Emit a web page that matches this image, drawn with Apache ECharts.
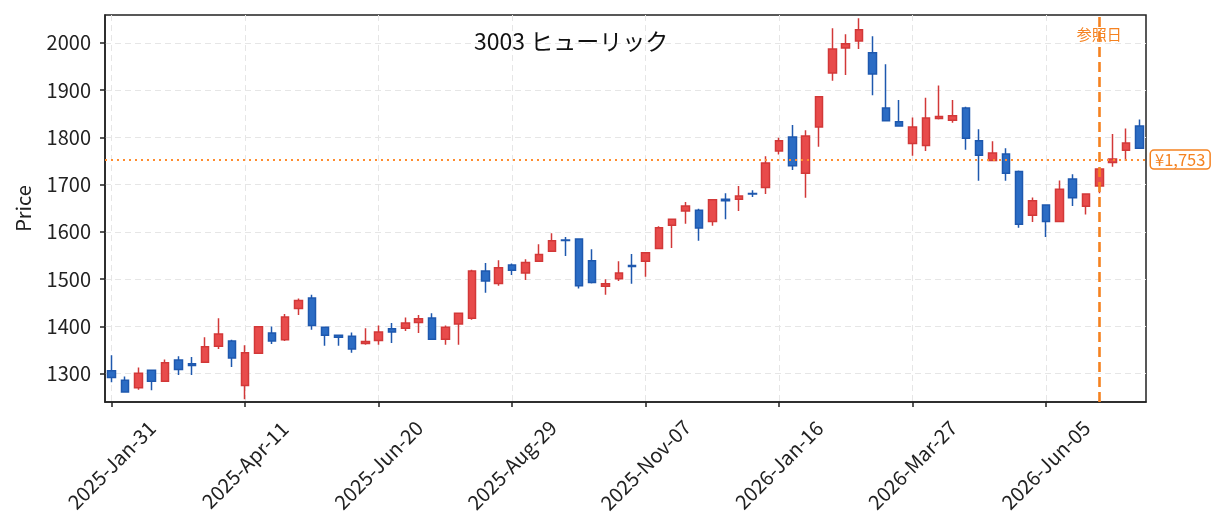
<!DOCTYPE html>
<html><head><meta charset="utf-8">
<script src="https://cdn.jsdelivr.net/npm/echarts@6/dist/echarts.min.js"></script>
<style>html,body{margin:0;padding:0;background:#fff}#c{width:1225px;height:532px}</style>
</head><body><div id="c"></div>
<script>
const dates = [
'2025-Jan-31','2025-Feb-07','2025-Feb-14','2025-Feb-21','2025-Feb-28','2025-Mar-07','2025-Mar-14','2025-Mar-21','2025-Mar-28','2025-Apr-04',
'2025-Apr-11','2025-Apr-18','2025-Apr-25','2025-May-02','2025-May-09','2025-May-16','2025-May-23','2025-May-30','2025-Jun-06','2025-Jun-13',
'2025-Jun-20','2025-Jun-27','2025-Jul-04','2025-Jul-11','2025-Jul-18','2025-Jul-25','2025-Aug-01','2025-Aug-08','2025-Aug-15','2025-Aug-22',
'2025-Aug-29','2025-Sep-05','2025-Sep-12','2025-Sep-19','2025-Sep-26','2025-Oct-03','2025-Oct-10','2025-Oct-17','2025-Oct-24','2025-Oct-31',
'2025-Nov-07','2025-Nov-14','2025-Nov-21','2025-Nov-28','2025-Dec-05','2025-Dec-12','2025-Dec-19','2025-Dec-26','2026-Jan-02','2026-Jan-09',
'2026-Jan-16','2026-Jan-23','2026-Jan-30','2026-Feb-06','2026-Feb-13','2026-Feb-20','2026-Feb-27','2026-Mar-06','2026-Mar-13','2026-Mar-20',
'2026-Mar-27','2026-Apr-03','2026-Apr-10','2026-Apr-17','2026-Apr-24','2026-May-01','2026-May-08','2026-May-15','2026-May-22','2026-May-29',
'2026-Jun-05','2026-Jun-12','2026-Jun-19','2026-Jun-26','2026-Jul-03','2026-Jul-10','2026-Jul-17','2026-Jul-24'];
const openP = [
1306,1286,1270,1307,1284,1329,1321,1324,1358,1369,
1275,1343,1386,1372,1438,1460,1398,1381,1379,1364,
1370,1395,1396,1408,1418,1373,1405,1417,1517,1491,
1530,1513,1538,1559,1583,1585,1539,1485,1501,1529,
1538,1565,1614,1644,1646,1622,1669,1669,1681,1694,
1771,1801,1724,1822,1936,1989,2004,1979,1862,1833,
1787,1783,1840,1836,1862,1793,1751,1765,1728,1635,
1657,1622,1712,1654,1697,1747,1773,1824];
const closeP = [
1292,1261,1301,1284,1323,1309,1317,1357,1384,1333,
1344,1399,1369,1420,1455,1402,1381,1377,1352,1368,
1388,1388,1407,1416,1373,1398,1428,1517,1496,1524,
1519,1535,1552,1581,1582,1486,1493,1490,1513,1527,
1556,1609,1627,1655,1608,1668,1666,1676,1680,1746,
1793,1740,1803,1886,1987,1998,2028,1934,1835,1824,
1822,1841,1844,1846,1798,1762,1767,1724,1616,1666,
1622,1690,1672,1680,1733,1754,1788,1777];
const lowP = [
1282,1260,1266,1265,1283,1297,1297,1323,1352,1314,
1246,1343,1363,1369,1424,1393,1359,1359,1344,1361,
1361,1365,1390,1386,1372,1361,1361,1414,1471,1486,
1509,1498,1538,1559,1549,1480,1491,1467,1496,1490,
1505,1564,1566,1617,1581,1613,1627,1644,1674,1680,
1764,1731,1672,1780,1920,1932,1987,1889,1834,1823,
1761,1771,1838,1831,1774,1708,1751,1708,1609,1621,
1589,1622,1655,1637,1682,1738,1750,1777];
const highP = [
1339,1294,1313,1309,1330,1337,1335,1377,1417,1372,
1360,1399,1400,1426,1459,1467,1398,1383,1387,1396,
1402,1407,1419,1424,1428,1402,1428,1520,1534,1540,
1533,1542,1574,1597,1589,1585,1563,1500,1538,1553,
1556,1612,1627,1663,1649,1668,1682,1697,1688,1760,
1799,1826,1815,1886,2031,2018,2052,2014,1955,1879,
1842,1884,1910,1879,1865,1817,1792,1777,1730,1673,
1657,1709,1722,1680,1733,1807,1819,1838];
const tickLabels = ['2025-Jan-31','2025-Apr-11','2025-Jun-20','2025-Aug-29','2025-Nov-07','2026-Jan-16','2026-Mar-27','2026-Jun-05'];
const refPrice = 1753;
const refDate = '2026-Jul-03';
const refDateText = '参照日';
const titleText = '3003 ヒューリック';
const yName = 'Price';

const FONT = "'Noto Sans CJK JP', 'Noto Sans', sans-serif";
const ORANGE = '#F58220';
const candleData = dates.map((d, i) => [openP[i], closeP[i], lowP[i], highP[i]]);
const showTick = (idx, val) => tickLabels.indexOf(val !== undefined ? val : dates[idx]) >= 0;

const chart = echarts.init(document.getElementById('c'), null, {renderer: 'canvas'});
chart.setOption({
  animation: false,
  backgroundColor: '#fff',
  textStyle: {fontFamily: FONT},
  title: {
    text: titleText, left: 469, top: 25,
    textStyle: {fontFamily: FONT, fontSize: 23, fontWeight: 'normal', color: '#111'}
  },
  grid: {left: 105, right: 79, top: 15, bottom: 130, show: true, borderColor: '#222', borderWidth: 1.5, backgroundColor: 'transparent'},
  xAxis: {
    type: 'category', data: dates, boundaryGap: true,
    axisLine: {show: true, lineStyle: {color: '#222', width: 1.5}},
    axisTick: {show: true, alignWithLabel: true, interval: (i, v) => showTick(i, v), length: 5, lineStyle: {color: '#222', width: 1.5}},
    axisLabel: {
      interval: (i, v) => showTick(i, v), rotate: 45, align: 'center', verticalAlign: 'middle', margin: 63,
      fontFamily: FONT, fontSize: 20, color: '#222'
    },
    splitLine: {show: true, alignWithLabel: true, interval: (i, v) => showTick(i, v), lineStyle: {color: '#e6e6e6', type: [6, 4], width: 1}}
  },
  yAxis: {
    type: 'value', min: 1240, max: 2059, minInterval: 100, maxInterval: 100, scale: true,
    name: yName, nameLocation: 'middle', nameGap: 72, nameRotate: 90,
    nameTextStyle: {fontFamily: FONT, fontSize: 20, color: '#222'},
    axisLine: {show: true, lineStyle: {color: '#222', width: 1.5}},
    axisTick: {show: true, length: 5, lineStyle: {color: '#222', width: 1.5}},
    axisLabel: {showMinLabel: false, showMaxLabel: false, formatter: v => String(v), fontFamily: FONT, fontSize: 20, color: '#222', margin: 14},
    splitLine: {show: true, showMinLine: false, showMaxLine: false, lineStyle: {color: '#e6e6e6', type: [6, 4], width: 1}}
  },
  series: [{
    type: 'candlestick',
    data: candleData,
    barWidth: 8,
    itemStyle: {
      color: '#E84B4B', color0: '#2B6CC4',
      borderColor: '#D23838', borderColor0: '#1E58AE', borderWidth: 1.5
    },
    markLine: {
      silent: true, symbol: ['none', 'none'], animation: false,
      data: [
        {yAxis: refPrice, lineStyle: {type: [2, 4], width: 2, color: '#FF8C2E'},
         label: {show: true, position: 'end', distance: 5, formatter: '¥' + refPrice.toLocaleString('en-US'),
           color: ORANGE, fontFamily: FONT, fontSize: 16.5, backgroundColor: '#fff',
           borderColor: ORANGE, borderWidth: 1.5, borderRadius: 3, padding: [1, 4, 0, 4]}},
        {xAxis: refDate, lineStyle: {type: [10, 5], width: 2.6, color: ORANGE}, label: {show: false}}
      ]
    },
    markPoint: {
      silent: true, animation: false,
      symbol: 'rect', symbolSize: 1, itemStyle: {color: 'rgba(0,0,0,0)'},
      data: [{coord: [refDate, 2018], value: refDateText}],
      label: {show: true, position: 'inside', formatter: refDateText, color: ORANGE, fontFamily: FONT, fontSize: 15}
    }
  }]
});
</script>
</body></html>
